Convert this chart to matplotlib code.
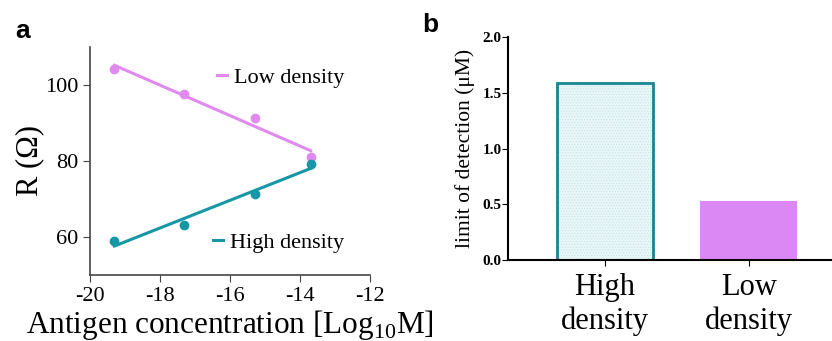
import numpy as np
import matplotlib
matplotlib.use("Agg")
import matplotlib.pyplot as plt

# panel a: resistance vs antigen concentration
conc = [-19.3, -17.3, -15.3, -13.7]
r_low = [104.3, 97.6, 91.3, 81.0]
r_high = [58.9, 63.2, 71.4, 79.2]

# panel b: limit of detection
groups = ["High\ndensity", "Low\ndensity"]
lod = [1.59, 0.53]

PINK = "#e08af0"
TEAL = "#1597a6"
BAR_PINK = "#dc88f4"
BAR_EDGE = "#1a8496"
BAR_FILL = "#e9f6f8"

plt.rcParams["font.family"] = ["Liberation Serif", "DejaVu Serif"]
plt.rcParams["mathtext.fontset"] = "custom"
plt.rcParams["mathtext.rm"] = "Liberation Serif"
plt.rcParams["axes.unicode_minus"] = False
plt.rcParams["hatch.linewidth"] = 0.4

fig = plt.figure(figsize=(8.32, 3.41), dpi=100)

# ---- panel a
ax = fig.add_axes([0.108, 0.194, 0.337, 0.668])
x = np.array(conc)
for ys, c, lab in [(r_low, PINK, "Low density"), (r_high, TEAL, "High density")]:
    ax.scatter(x, ys, s=36, color=c, zorder=3)
    k, b = np.polyfit(x, ys, 1)
    ax.plot([x.min(), x.max()], [k * x.min() + b, k * x.max() + b], color=c, lw=2.2, label=lab)

lines = ax.get_lines()
leg1 = ax.legend([lines[0]], ["Low density"], loc="center left", bbox_to_anchor=(0.455, 0.865),
                 frameon=False, fontsize=16, handlelength=0.45, handletextpad=0.3,
                 borderpad=0, borderaxespad=0)
ax.add_artist(leg1)
ax.legend([lines[1]], ["High density"], loc="center left", bbox_to_anchor=(0.44, 0.14),
          frameon=False, fontsize=16, handlelength=0.45, handletextpad=0.3,
          borderpad=0, borderaxespad=0)

ax.set_xlim(-20, -12)
ax.set_ylim(50, 110)
ax.set_xticks([-20, -18, -16, -14, -12])
ax.set_yticks([60, 80, 100])
for s in ["top", "right"]:
    ax.spines[s].set_visible(False)
for s in ["left", "bottom"]:
    ax.spines[s].set_color("#444444")
    ax.spines[s].set_linewidth(1.2)
ax.tick_params(labelsize=16, length=5, color="#444444")
ax.set_ylabel("R (Ω)", fontsize=22, labelpad=0)
ax.set_xlabel("Antigen concentration [Log$_{\\mathregular{10}}$M]", fontsize=22.5, labelpad=2)

# ---- panel b
bx = fig.add_axes([0.611, 0.2375, 0.389, 0.6535])
pos = np.arange(len(groups))
bx.bar(pos[0], lod[0], width=0.67, color=BAR_FILL, edgecolor="#bfe3e8", hatch="......", lw=0)
bx.bar(pos[0], lod[0], width=0.67, fill=False, edgecolor=BAR_EDGE, lw=2)
bx.bar(pos[1], lod[1], width=0.67, color=BAR_PINK, lw=0)
bx.set_xlim(-0.67, 1.58)
bx.set_ylim(0, 2.0)
bx.set_yticks([0.0, 0.5, 1.0, 1.5, 2.0])
bx.set_yticklabels([f"{v:.1f}" for v in [0.0, 0.5, 1.0, 1.5, 2.0]], fontweight="bold", fontsize=11)
bx.set_xticks(pos)
bx.set_xticklabels(groups, fontsize=22, linespacing=1.2)
for s in ["top", "right"]:
    bx.spines[s].set_visible(False)
for s in ["left", "bottom"]:
    bx.spines[s].set_linewidth(1.5)
bx.tick_params(axis="y", length=4, pad=1)
bx.tick_params(axis="x", length=4, pad=5)
bx.set_ylabel("limit of detection (μM)", fontsize=15.5, labelpad=5)

fig.text(0.018, 0.89, "a", fontsize=19, fontweight="bold", family="Liberation Sans")
fig.text(0.508, 0.905, "b", fontsize=19, fontweight="bold", family="Liberation Sans")

fig.savefig("out.png", dpi=100)
